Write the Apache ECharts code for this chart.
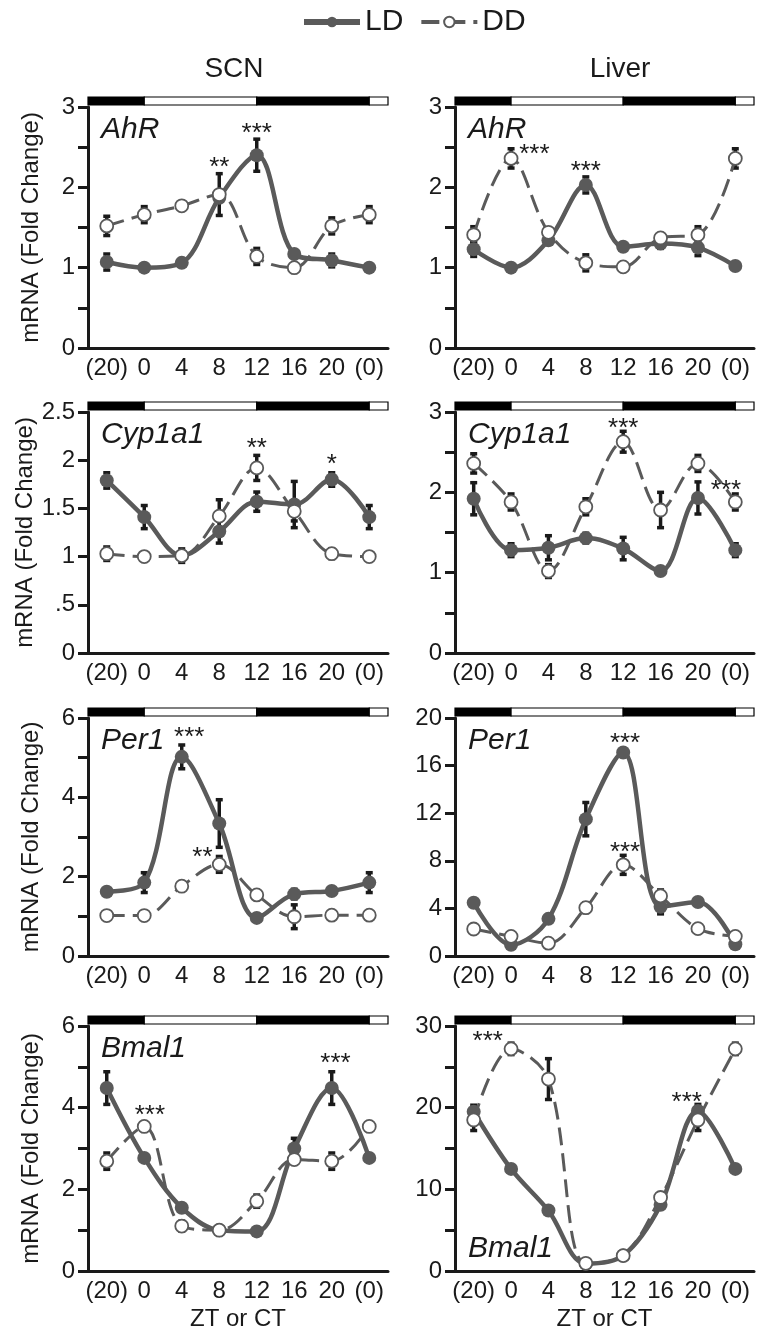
<!DOCTYPE html>
<html>
<head>
<meta charset="utf-8">
<script src="https://cdn.jsdelivr.net/npm/echarts@6/dist/echarts.min.js"></script>
<style>
  html, body { margin: 0; background: #fff; }
  #chart { width: 760px; height: 1337px; }
</style>
</head>
<body>
<div id="chart"></div>
<script>
// x categories (ZT or CT) and the light/dark bar in hours
const categories = ['(20)', '0', '4', '8', '12', '16', '20', '(0)']
const lightBar = [[-6, 0, 1], [0, 12, 0], [12, 24, 1], [24, 26, 0]] // [start, end, dark]

// SCN AhR
const scnAhrLD = [1.07, 1.0, 1.06, 1.87, 2.4, 1.17, 1.09, 1.0]
const scnAhrLDErr = [0.1, 0, 0, 0, 0.2, 0, 0.08, 0]
const scnAhrDD = [1.52, 1.66, 1.77, 1.91, 1.14, 1.0, 1.52, 1.66]
const scnAhrDDErr = [0.12, 0.1, 0.05, 0.26, 0.1, 0, 0.1, 0.1]
const scnAhrStars = [[8, 2.32, '**'], [12, 2.74, '***']]

// Liver AhR
const livAhrLD = [1.23, 1.0, 1.34, 2.03, 1.26, 1.3, 1.25, 1.02]
const livAhrLDErr = [0.09, 0, 0, 0.1, 0, 0.06, 0.1, 0]
const livAhrDD = [1.41, 2.36, 1.44, 1.06, 1.01, 1.37, 1.41, 2.36]
const livAhrDDErr = [0.1, 0.12, 0, 0.1, 0, 0, 0.1, 0.12]
const livAhrStars = [[2.5, 2.48, '***'], [8, 2.27, '***']]

// SCN Cyp1a1
const scnCypLD = [1.79, 1.41, 1.01, 1.26, 1.57, 1.54, 1.8, 1.41]
const scnCypLDErr = [0.08, 0.12, 0.07, 0.12, 0.1, 0.24, 0.07, 0.12]
const scnCypDD = [1.03, 1.0, 1.01, 1.42, 1.92, 1.47, 1.03, 1.0]
const scnCypDDErr = [0.07, 0, 0, 0.17, 0.13, 0.1, 0.05, 0]
const scnCypStars = [[12, 2.18, '**'], [20, 2.01, '*']]

// Liver Cyp1a1
const livCypLD = [1.92, 1.28, 1.31, 1.43, 1.3, 1.02, 1.93, 1.28]
const livCypLDErr = [0.2, 0.08, 0.15, 0.06, 0.14, 0.03, 0.2, 0.08]
const livCypDD = [2.36, 1.88, 1.02, 1.82, 2.63, 1.78, 2.36, 1.88]
const livCypDDErr = [0.12, 0.1, 0.08, 0.1, 0.13, 0.22, 0.1, 0.1]
const livCypStars = [[12, 2.87, '***'], [23, 2.09, '***']]

// SCN Per1
const scnPerLD = [1.62, 1.85, 5.02, 3.34, 0.96, 1.56, 1.64, 1.85]
const scnPerLDErr = [0, 0.25, 0.3, 0.6, 0, 0.12, 0, 0.25]
const scnPerDD = [1.02, 1.02, 1.76, 2.31, 1.54, 0.99, 1.03, 1.03]
const scnPerDDErr = [0, 0, 0, 0.2, 0, 0.3, 0, 0]
const scnPerStars = [[4.8, 5.65, '***'], [6.2, 2.63, '**']]

// Liver Per1
const livPerLD = [4.48, 0.94, 3.12, 11.5, 17.1, 4.14, 4.54, 0.99]
const livPerLDErr = [0, 0, 0, 1.4, 0, 0.6, 0, 0]
const livPerDD = [2.27, 1.65, 1.08, 4.06, 7.66, 5.05, 2.3, 1.65]
const livPerDDErr = [0, 0, 0, 0.4, 0.8, 0.5, 0, 0]
const livPerStars = [[12.2, 18.3, '***'], [12.2, 9.2, '***']]

// SCN Bmal1
const scnBmaLD = [4.48, 2.77, 1.55, 1.0, 0.97, 3.0, 4.48, 2.77]
const scnBmaLDErr = [0.4, 0, 0, 0, 0, 0.25, 0.4, 0]
const scnBmaDD = [2.69, 3.54, 1.1, 1.0, 1.71, 2.73, 2.69, 3.54]
const scnBmaDDErr = [0.2, 0, 0.12, 0, 0.15, 0, 0.2, 0]
const scnBmaStars = [[0.6, 3.95, '***'], [20.4, 5.21, '***']]

// Liver Bmal1
const livBmaLD = [19.5, 12.5, 7.4, 0.9, 1.9, 8.1, 19.6, 12.5]
const livBmaLDErr = [0.8, 0, 0, 0, 0, 0, 0.8, 0]
const livBmaDD = [18.5, 27.2, 23.5, 0.94, 1.88, 9.0, 18.5, 27.2]
const livBmaDDErr = [1.3, 0.7, 2.5, 0, 0, 0, 1.3, 0.7]
const livBmaStars = [[-2.5, 28.8, '***'], [18.8, 21.3, '***']]

const panels = [
  { gene: 'AhR', ld: scnAhrLD, ldErr: scnAhrLDErr, dd: scnAhrDD, ddErr: scnAhrDDErr, stars: scnAhrStars, max: 3, tick: 0.5, labelStep: 1 },
  { gene: 'AhR', ld: livAhrLD, ldErr: livAhrLDErr, dd: livAhrDD, ddErr: livAhrDDErr, stars: livAhrStars, max: 3, tick: 0.5, labelStep: 1 },
  { gene: 'Cyp1a1', ld: scnCypLD, ldErr: scnCypLDErr, dd: scnCypDD, ddErr: scnCypDDErr, stars: scnCypStars, max: 2.5, tick: 0.5, labelStep: 0.5 },
  { gene: 'Cyp1a1', ld: livCypLD, ldErr: livCypLDErr, dd: livCypDD, ddErr: livCypDDErr, stars: livCypStars, max: 3, tick: 0.5, labelStep: 1 },
  { gene: 'Per1', ld: scnPerLD, ldErr: scnPerLDErr, dd: scnPerDD, ddErr: scnPerDDErr, stars: scnPerStars, max: 6, tick: 1, labelStep: 2 },
  { gene: 'Per1', ld: livPerLD, ldErr: livPerLDErr, dd: livPerDD, ddErr: livPerDDErr, stars: livPerStars, max: 20, tick: 4, labelStep: 4 },
  { gene: 'Bmal1', ld: scnBmaLD, ldErr: scnBmaLDErr, dd: scnBmaDD, ddErr: scnBmaDDErr, stars: scnBmaStars, max: 6, tick: 1, labelStep: 2 },
  { gene: 'Bmal1', ld: livBmaLD, ldErr: livBmaLDErr, dd: livBmaDD, ddErr: livBmaDDErr, stars: livBmaStars, max: 30, tick: 5, labelStep: 10, geneBottom: true }
]

const FONT = '"Liberation Sans", Arial, sans-serif'
const GRAY = '#5a5a5a'
const INK = '#1a1a1a'

const rowTop = [107, 412, 718, 1026]
const rowHeight = [241, 241, 238, 245]
const colLeft = [88, 455]
const colWidth = [300, 299]

const chart = echarts.init(document.getElementById('chart'))

function errData(vals, errs) {
  const out = []
  vals.forEach((v, i) => {
    if (errs[i] > 0) out.push([i, v - errs[i], v + errs[i]])
  })
  return out
}

function renderErr(params, api) {
  const x = api.value(0)
  const lo = api.coord([x, api.value(1)])
  const hi = api.coord([x, api.value(2)])
  const style = { stroke: INK, lineWidth: 3.5 }
  return {
    type: 'group',
    children: [
      { type: 'line', shape: { x1: lo[0], y1: lo[1], x2: hi[0], y2: hi[1] }, style },
      { type: 'line', shape: { x1: lo[0] - 3.5, y1: lo[1], x2: lo[0] + 3.5, y2: lo[1] }, style },
      { type: 'line', shape: { x1: hi[0] - 3.5, y1: hi[1], x2: hi[0] + 3.5, y2: hi[1] }, style }
    ]
  }
}

function renderBar(params, api) {
  const a = api.coord([api.value(0), 1])
  const b = api.coord([api.value(1), 0])
  return {
    type: 'rect',
    shape: { x: a[0], y: a[1], width: b[0] - a[0], height: b[1] - a[1] },
    style: { fill: api.value(2) ? '#000' : '#fff', stroke: '#000', lineWidth: 1.2 }
  }
}

function renderStar(params, api) {
  const p = api.coord([api.value(0), api.value(1)])
  return {
    type: 'text',
    x: p[0],
    y: p[1] + 6,
    style: {
      text: api.value(2) || '',
      fontSize: 26, fontFamily: FONT, fill: INK,
      textAlign: 'center', textVerticalAlign: 'middle'
    }
  }
}

const grid = [], xAxis = [], yAxis = [], series = []
const title = [
  { text: 'SCN', left: 229, top: 50, textAlign: 'center', textStyle: { fontSize: 28, fontWeight: 'normal', color: INK, fontFamily: FONT } },
  { text: 'Liver', left: 615, top: 50, textAlign: 'center', textStyle: { fontSize: 28, fontWeight: 'normal', color: INK, fontFamily: FONT } }
]

panels.forEach((p, k) => {
  const row = Math.floor(k / 2), col = k % 2
  const top = rowTop[row], h = rowHeight[row], left = colLeft[col], w = colWidth[col]

  grid.push({ left, top, width: w, height: h })
  grid.push({ left, top: top - 10, width: w, height: 8 })

  xAxis.push({
    gridIndex: 2 * k, type: 'category', data: categories, boundaryGap: true,
    axisLine: { onZero: false, lineStyle: { color: INK, width: 3 } },
    axisTick: { show: false },
    axisLabel: { color: INK, fontSize: 24, fontFamily: FONT, margin: 8, interval: 0 },
    name: row === 3 ? 'ZT or CT' : '',
    nameLocation: 'middle', nameGap: 36,
    nameTextStyle: { color: INK, fontSize: 24, fontFamily: FONT }
  })
  xAxis.push({ gridIndex: 2 * k, type: 'value', min: -6, max: 26, show: false })
  xAxis.push({ gridIndex: 2 * k + 1, type: 'value', min: -6, max: 26, show: false })

  yAxis.push({
    gridIndex: 2 * k, type: 'value', min: 0, max: p.max, interval: p.tick,
    splitLine: { show: false },
    axisLine: { show: true, onZero: false, lineStyle: { color: INK, width: 3 } },
    axisTick: { show: true, length: 10, lineStyle: { color: INK, width: 3 } },
    axisLabel: {
      color: INK, fontSize: 24, fontFamily: FONT, margin: 13,
      formatter: v => {
        const r = v / p.labelStep
        if (Math.abs(r - Math.round(r)) > 1e-6) return ''
        return v > 0 && v < 1 ? String(v).replace(/^0/, '') : String(v)
      }
    },
    name: col === 0 ? 'mRNA (Fold Change)' : '',
    nameLocation: 'middle', nameGap: 45,
    nameTextStyle: { color: INK, fontSize: 24, fontFamily: FONT }
  })
  yAxis.push({ gridIndex: 2 * k + 1, type: 'value', min: 0, max: 1, show: false })

  title.push({
    text: p.gene, left: left + 8, top: p.geneBottom ? top + h - 42 : top + 3,
    textStyle: { fontSize: 30, fontStyle: 'italic', fontWeight: 'normal', color: INK, fontFamily: FONT }
  })

  const xi = 3 * k, yi = 2 * k
  series.push({
    type: 'custom', xAxisIndex: xi + 2, yAxisIndex: yi + 1, renderItem: renderBar,
    data: lightBar, encode: { x: [0, 1], y: 2 }, silent: true, z: 2
  })
  series.push({
    type: 'custom', xAxisIndex: xi, yAxisIndex: yi, renderItem: renderErr,
    data: errData(p.ld, p.ldErr), encode: { x: 0, y: [1, 2] }, z: 1, silent: true
  })
  series.push({
    type: 'custom', xAxisIndex: xi, yAxisIndex: yi, renderItem: renderErr,
    data: errData(p.dd, p.ddErr), encode: { x: 0, y: [1, 2] }, z: 1, silent: true
  })
  series.push({
    name: 'LD', type: 'line', xAxisIndex: xi, yAxisIndex: yi, data: p.ld,
    smooth: 0.35, symbol: 'circle', symbolSize: 14, z: 2,
    lineStyle: { color: GRAY, width: 4.5 },
    itemStyle: { color: GRAY },
    animation: false
  })
  series.push({
    name: 'DD', type: 'line', xAxisIndex: xi, yAxisIndex: yi, data: p.dd,
    smooth: 0.35, symbol: 'circle', symbolSize: 13, z: 3,
    lineStyle: { color: GRAY, width: 3, type: [18, 8] },
    itemStyle: { color: '#fff', borderColor: GRAY, borderWidth: 1.8 },
    animation: false
  })
  series.push({
    type: 'custom', xAxisIndex: xi + 1, yAxisIndex: yi, renderItem: renderStar,
    data: p.stars, encode: { x: 0, y: 1 }, z: 5, silent: true, clip: false,
    dimensions: ['h', 'v', { name: 't', type: 'ordinal' }]
  })
})

chart.setOption({
  animation: false,
  title,
  legend: {
    data: [
      { name: 'LD', lineStyle: { width: 6 } },
      { name: 'DD', lineStyle: { width: 4 } }
    ],
    left: 296, top: 2, itemWidth: 56, itemHeight: 13, itemGap: 16,
    textStyle: { fontSize: 30, color: INK, fontFamily: FONT }
  },
  grid, xAxis, yAxis, series
})
</script>
</body>
</html>
